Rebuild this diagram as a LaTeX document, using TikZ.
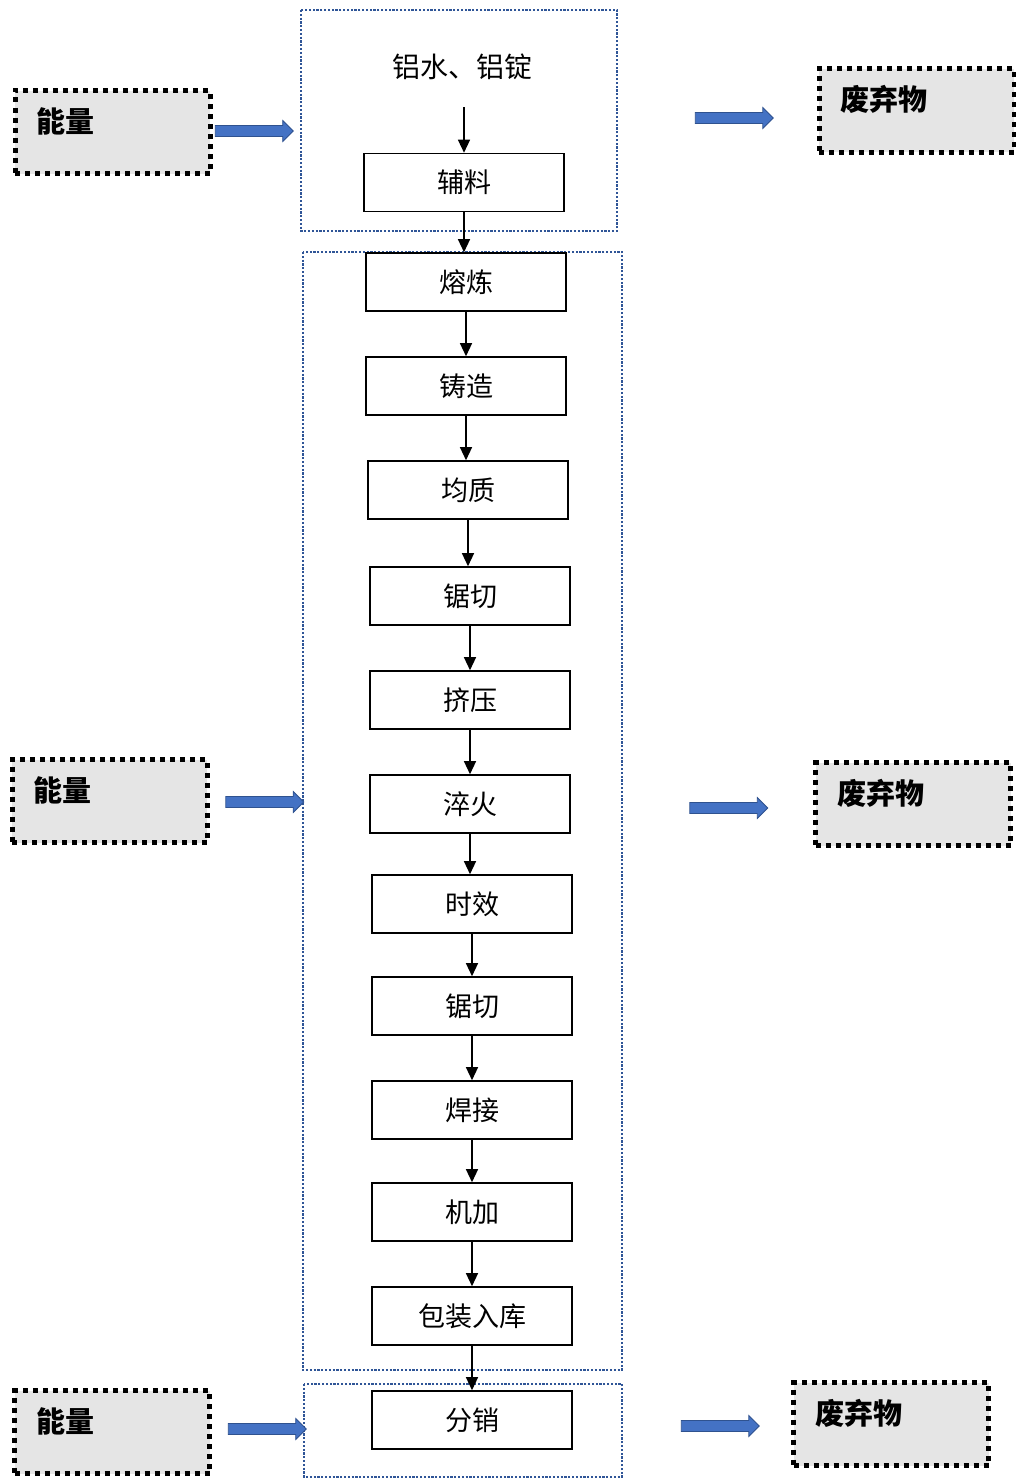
\documentclass[tikz,border=0pt]{standalone}
\usepackage{fontspec}
\setmainfont{Noto Sans CJK SC}
\usetikzlibrary{arrows.meta,shapes.arrows}
\definecolor{grpblue}{HTML}{2F5597}
\definecolor{arrblue}{HTML}{4472C4}
\definecolor{arredge}{HTML}{2F528F}
\begin{document}
\begin{tikzpicture}[x=1pt,y=-1pt,
  proc/.style={draw,line width=1.6pt,minimum width=200pt,minimum height=58pt,inner sep=0pt,font=\fontsize{27}{30}\selectfont},
  flow/.style={line width=1.3pt,-{Triangle[length=13pt,width=12pt]}},
  group/.style={draw=grpblue,line width=2.2pt,dash pattern=on 2.2pt off 1.6pt},
  sidebox/.style={draw,fill=gray!20,line width=5pt,dash pattern=on 5pt off 5pt,minimum width=195pt,minimum height=83pt,inner sep=0pt},
  sidetxt/.style={anchor=west,inner sep=0pt,font=\fontsize{29}{30}\selectfont\bfseries},
  fat/.style={single arrow,draw=arredge,fill=arrblue,line width=0.8pt,inner sep=3.5pt,
    single arrow head extend=5pt,minimum height=78pt,shape border uses incircle}]
\useasboundingbox (0,0) rectangle (1016,1480);
% dotted group frames
\draw[group] (301,10) rectangle (617,231);
\draw[group] (303,252) rectangle (622,1370);
\draw[group] (304,1384) rectangle (622,1477);
\node[inner sep=0pt,font=\fontsize{28}{30}\selectfont] (yuanliao) at (462,67) {铝水、铝锭};
% process chain
\foreach \nm/\x/\y/\txt in {fuliao/464/182.5/辅料,ronglian/466/282/熔炼,zhuzao/466/386/铸造,
  junzhi/468/490/均质,juqie/470/596/锯切,jiya/470/700/挤压,cuihuo/470/804/淬火,
  shixiao/472/904/时效,juqieb/472/1006/锯切,hanjie/472/1110/焊接,jijia/472/1212/机加,
  baozhuang/472/1316/包装入库,fenxiao/472/1420/分销}{
  \node[proc] (\nm) at (\x,\y) {\txt};}
\draw[flow] ([yshift=-27pt]yuanliao.south -| fuliao.north) -- (fuliao.north);
\foreach \a/\b in {fuliao/ronglian,ronglian/zhuzao,zhuzao/junzhi,junzhi/juqie,juqie/jiya,
  jiya/cuihuo,cuihuo/shixiao,shixiao/juqieb,juqieb/hanjie,hanjie/jijia,jijia/baozhuang,baozhuang/fenxiao}{
  \draw[flow] (\a.south) -- (\a.south |- \b.north);}
% energy in, waste out
\foreach \i/\ex/\ey/\wx/\wy in {1/112.5/132/916.5/110.5,2/109.5/801/913/804,3/112/1432/891/1424}{
  \node[sidebox] (neng\i) at (\ex,\ey) {};
  \node[sidetxt] (nengt\i) at ([xshift=24pt,yshift=11pt]neng\i.west) {能量};
  \node[sidebox] (fei\i) at (\wx,\wy) {};
  \node[sidetxt] (feit\i) at ([xshift=24pt,yshift=11pt]fei\i.west) {废弃物};}
\node[fat] (in1) at (251.5,131) {};
\node[fat] (in2) at (262,802) {};
\node[fat] (in3) at (264.5,1429) {};
\node[fat] (out1) at (731.5,118) {};
\node[fat] (out2) at (726,808) {};
\node[fat] (out3) at (717.5,1426) {};
\end{tikzpicture}
\end{document}
